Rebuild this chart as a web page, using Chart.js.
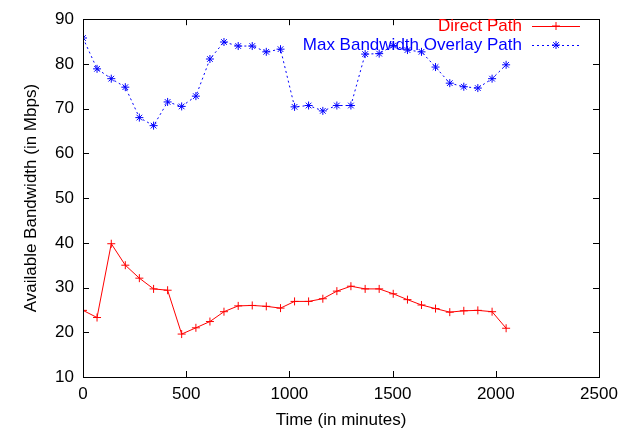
<!DOCTYPE html>
<html>
<head>
<meta charset="utf-8">
<script src="https://cdn.jsdelivr.net/npm/chart.js@4"></script>
<style>
  html, body { margin: 0; padding: 0; background: #fff; }
  #wrap { width: 636px; height: 435px; }
</style>
</head>
<body>
<div id="wrap"><canvas id="bwChart"></canvas></div>
<script>
// time of each measurement (minutes)
const times = [0, 68, 137, 205, 273, 342, 410, 478, 547, 615, 683, 752, 820, 888, 957,
  1025, 1093, 1162, 1230, 1298, 1367, 1435, 1503, 1572, 1640, 1708, 1777, 1845, 1913, 1982, 2050];

// available bandwidth, Mbps
const directPath = [24.9, 23.3, 39.8, 35.0, 32.1, 29.7, 29.4, 19.6, 21.0, 22.4, 24.6, 25.9, 26.0, 25.8, 25.4,
  26.9, 26.9, 27.5, 29.2, 30.3, 29.7, 29.7, 28.6, 27.3, 26.1, 25.3, 24.5, 24.8, 24.9, 24.6, 20.9];
const overlayPath = [85.8, 78.9, 76.7, 74.8, 68.0, 66.2, 71.5, 70.5, 72.8, 81.1, 84.9, 84.0, 84.0, 82.7, 83.3,
  70.4, 70.7, 69.5, 70.7, 70.7, 82.2, 82.3, 84.1, 83.1, 82.7, 79.3, 75.7, 74.9, 74.6, 76.7, 79.8];

const xTicks = [0, 500, 1000, 1500, 2000, 2500];
const yTicks = [10, 20, 30, 40, 50, 60, 70, 80, 90];

const seriesNames = ['Direct Path', 'Max Bandwidth Overlay Path'];

const FONT = 'Liberation Sans, Arial, sans-serif';
const FSIZE = 17;

function toPoints(ys) {
  return ys.map((y, i) => ({ x: times[i], y: y }));
}

// gnuplot-like frame with inward ticks on all four sides, plus the key
const gnuFrame = {
  id: 'gnuFrame',
  afterDraw(chart) {
    const c = chart.ctx;
    const a = chart.chartArea;
    const xs = chart.scales.x, ys = chart.scales.y;
    c.save();
    c.strokeStyle = '#000';
    c.lineWidth = 1;
    c.strokeRect(Math.round(a.left) + 0.5, Math.round(a.top) + 0.5,
      Math.round(a.right - a.left), Math.round(a.bottom - a.top));
    c.beginPath();
    xTicks.forEach(v => {
      const px = Math.round(xs.getPixelForValue(v)) + 0.5;
      c.moveTo(px, a.bottom); c.lineTo(px, a.bottom - 6);
      c.moveTo(px, a.top); c.lineTo(px, a.top + 6);
    });
    yTicks.forEach(v => {
      const py = Math.round(ys.getPixelForValue(v)) + 0.5;
      c.moveTo(a.left, py); c.lineTo(a.left + 6, py);
      c.moveTo(a.right, py); c.lineTo(a.right - 6, py);
    });
    c.stroke();

    // key
    c.font = FSIZE + 'px ' + FONT;
    c.textAlign = 'right';
    c.textBaseline = 'middle';
    const rows = [
      { y: 26, color: '#ff0000', dash: [], style: 'cross' },
      { y: 45, color: '#0000ff', dash: [2, 3], style: 'star' }
    ];
    rows.forEach((r, i) => {
      c.fillStyle = r.color;
      c.fillText(seriesNames[i], 522, r.y);
      c.strokeStyle = r.color;
      c.setLineDash(r.dash);
      c.beginPath();
      c.moveTo(532, r.y + 0.5); c.lineTo(580, r.y + 0.5);
      c.stroke();
      c.setLineDash([]);
      Chart.helpers.drawPoint(c, { pointStyle: r.style, radius: 4, borderWidth: 1 }, 556, r.y);
    });
    c.restore();
  }
};

new Chart(document.getElementById('bwChart'), {
  type: 'line',
  data: {
    datasets: [{
      label: seriesNames[0],
      data: toPoints(directPath),
      borderColor: '#ff0000',
      backgroundColor: '#ff0000',
      borderWidth: 1,
      pointStyle: 'cross',
      pointRadius: 4,
      pointBorderWidth: 1,
      tension: 0
    }, {
      label: seriesNames[1],
      data: toPoints(overlayPath),
      borderColor: '#0000ff',
      backgroundColor: '#0000ff',
      borderWidth: 1,
      borderDash: [2, 3],
      pointStyle: 'star',
      pointRadius: 4,
      pointBorderWidth: 1,
      tension: 0
    }]
  },
  options: {
    responsive: true,
    maintainAspectRatio: false,
    animation: false,
    layout: { padding: { top: 13, right: 37, left: 0, bottom: 0 } },
    plugins: {
      legend: { display: false },
      tooltip: { enabled: false }
    },
    scales: {
      x: {
        type: 'linear',
        min: 0,
        max: 2500,
        afterBuildTicks: s => { s.ticks = xTicks.map(v => ({ value: v })); },
        afterFit: s => { s.height = 58; },
        grid: { display: false, drawTicks: false },
        border: { display: false },
        ticks: {
          color: '#000', font: { family: FONT, size: FSIZE }, padding: 7, maxRotation: 0,
          callback: v => String(v)
        },
        title: {
          display: true,
          text: 'Time (in minutes)',
          color: '#000',
          font: { family: FONT, size: FSIZE },
          padding: { top: 0, bottom: 4 }
        }
      },
      y: {
        min: 10,
        max: 90,
        afterBuildTicks: s => { s.ticks = yTicks.map(v => ({ value: v })); },
        afterFit: s => { s.width = 83; },
        grid: { display: false, drawTicks: false },
        border: { display: false },
        ticks: {
          color: '#000', font: { family: FONT, size: FSIZE }, padding: 9,
          callback: v => String(v)
        },
        title: {
          display: true,
          text: 'Available Bandwidth (in Mbps)',
          color: '#000',
          font: { family: FONT, size: FSIZE },
          padding: { top: 21, bottom: 0 }
        }
      }
    }
  },
  plugins: [gnuFrame]
});
</script>
</body>
</html>
